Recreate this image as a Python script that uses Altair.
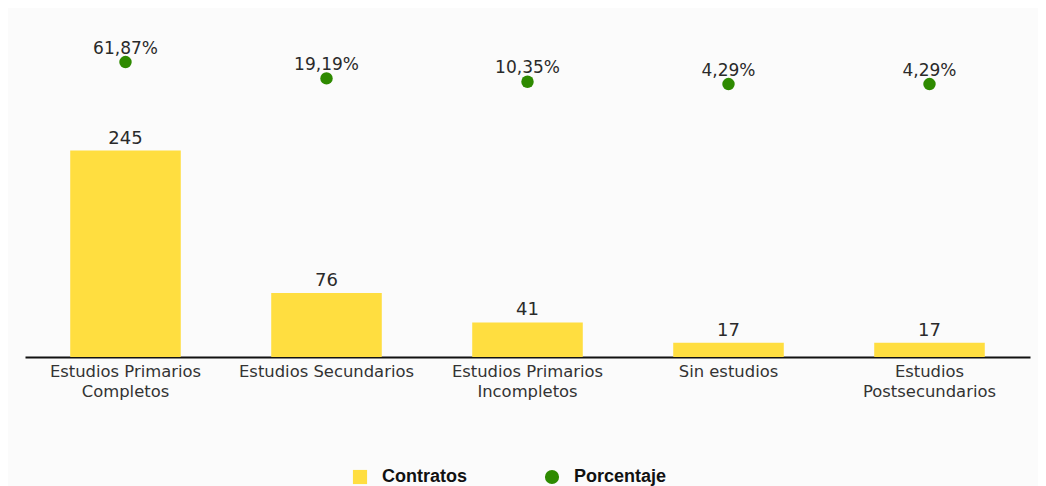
import json
import altair as alt
import pandas as pd

categories = [
    "Estudios Primarios Completos",
    "Estudios Secundarios",
    "Estudios Primarios Incompletos",
    "Sin estudios",
    "Estudios Postsecundarios",
]
label_lines = [
    ["Estudios Primarios", "Completos"],
    ["Estudios Secundarios"],
    ["Estudios Primarios", "Incompletos"],
    ["Sin estudios"],
    ["Estudios", "Postsecundarios"],
]
contratos = [245, 76, 41, 17, 17]
porcentaje = [61.87, 19.19, 10.35, 4.29, 4.29]
series_names = ["Contratos", "Porcentaje"]

YELLOW = "#FFDE40"
GREEN = "#2E8A00"

df = pd.DataFrame({"cat": categories, "contratos": contratos, "pct": porcentaje})

label_expr = ""
for c, lines in zip(categories, label_lines):
    label_expr += f"datum.value == {json.dumps(c)} ? {json.dumps(lines)} : "
label_expr += "datum.value"

x_enc = alt.X(
    "cat:N",
    sort=categories,
    scale=alt.Scale(paddingInner=0.45, paddingOuter=0.225),
    axis=alt.Axis(
        title=None, labelAngle=0, ticks=False, domainColor="#111111", domainWidth=2,
        labelExpr=label_expr, labelFont="DejaVu Sans", labelFontSize=16.4,
        labelColor="#333333", labelLineHeight=20, labelPadding=6, labelLimit=400,
        labelBaseline="top",
    ),
)

legend_cfg = dict(
    orient="none", legendX=326, legendY=448, direction="horizontal", title=None,
    labelFont="Liberation Sans", labelFontWeight="bold", labelFontSize=18,
    labelColor="#111111", symbolSize=200, labelOffset=13, columnPadding=76,
    symbolOpacity=1, symbolStrokeWidth=0,
)

color_enc = alt.Color(
    "serie:N",
    scale=alt.Scale(domain=series_names, range=[YELLOW, GREEN]),
    legend=alt.Legend(**legend_cfg),
)
shape_enc = alt.Shape(
    "serie:N",
    scale=alt.Scale(domain=series_names, range=["square", "circle"]),
    legend=alt.Legend(**legend_cfg),
)

y_bar = alt.Y("contratos:Q", scale=alt.Scale(domain=[0, 400], nice=False), axis=None)
y_pct = alt.Y("pct:Q", scale=alt.Scale(domain=[-710, 172], nice=False, zero=False), axis=None)

base = alt.Chart(df)

bars = base.transform_calculate(serie="'Contratos'").mark_bar().encode(
    x=x_enc, y=y_bar, color=color_enc
)
bar_text = base.mark_text(
    font="DejaVu Sans", fontSize=18, color="#2a2a2a", baseline="alphabetic", dy=-7
).encode(x=x_enc, y=y_bar, text="contratos:Q")

bar_layer = alt.layer(bars, bar_text)

points = base.transform_calculate(serie="'Porcentaje'").mark_point(
    filled=True, opacity=1, size=155
).encode(x=x_enc, y=y_pct, color=color_enc, shape=shape_enc)
pct_text = base.transform_calculate(
    lbl="replace(format(datum.pct, '.2f'), '.', ',') + '%'"
).mark_text(
    font="DejaVu Sans", fontSize=17, color="#2a2a2a", baseline="alphabetic", dy=-8.5
).encode(x=x_enc, y=y_pct, text="lbl:N")

pct_layer = alt.layer(points, pct_text)

chart = (
    alt.layer(bar_layer, pct_layer)
    .resolve_scale(y="independent")
    .properties(
        width=1005, height=337,
        padding={"left": 17, "top": 12, "right": 8, "bottom": 0},
        background="#FBFBFB",
    )
    .configure_view(stroke=None)
)

chart.save("out.html", embed_options={"renderer": "svg", "actions": False})
